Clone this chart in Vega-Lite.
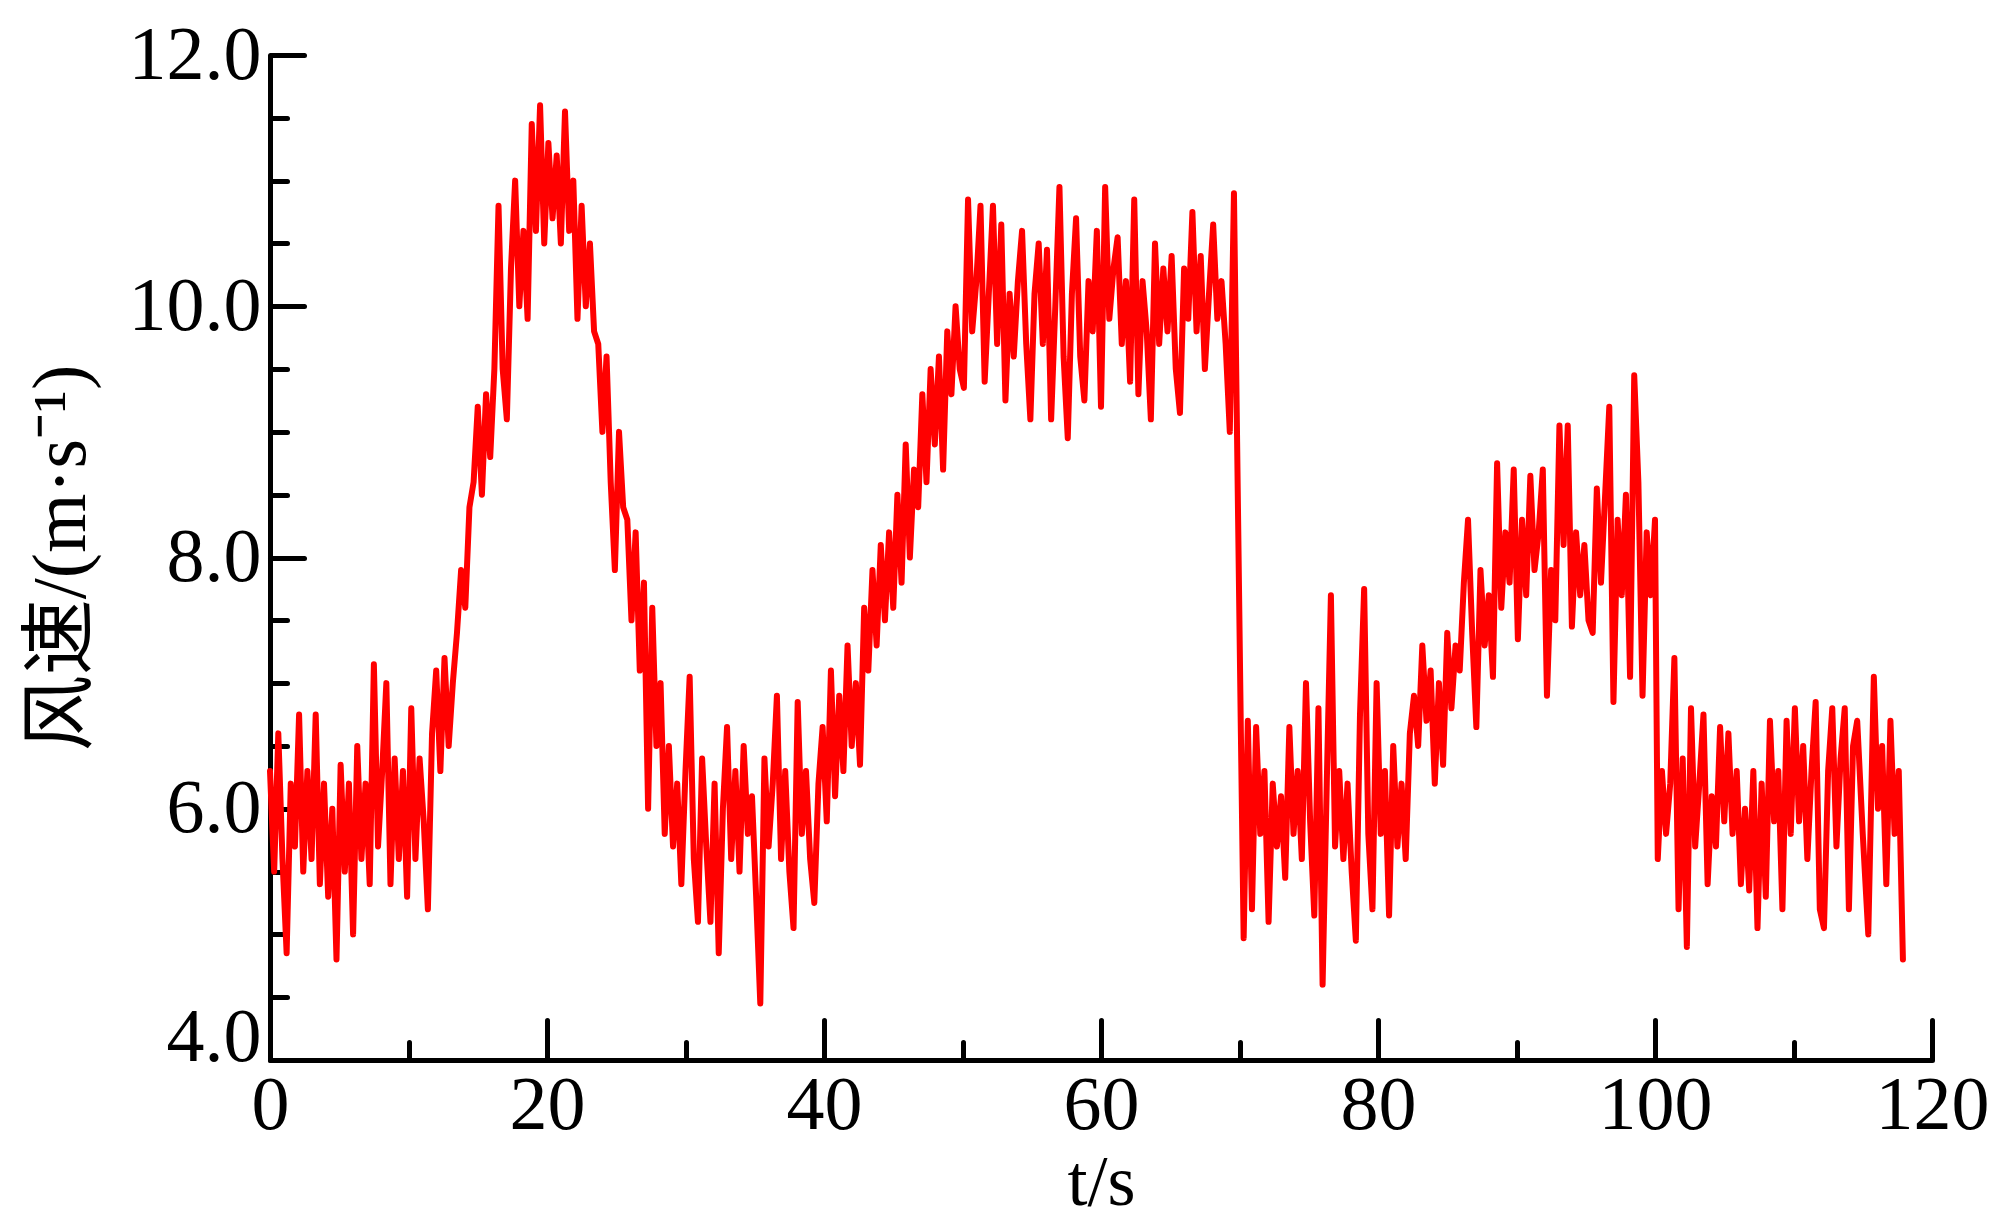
{
"$schema": "https://vega.github.io/schema/vega-lite/v6.json",
"width": 1662, "height": 1005,
"autosize": {"type": "none"},
"padding": {"left": 270, "top": 55, "right": 62, "bottom": 161},
"background": "white",
"config": {"view": {"stroke": null}, "font": "Liberation Serif"},
"data": {"values": [
{"t":0,"v":6.3},{"t":0.3,"v":5.5},{"t":0.6,"v":6.6},{"t":0.9,"v":5.6},{"t":1.2,"v":4.85},{"t":1.5,"v":6.2},{"t":1.8,"v":5.7},{"t":2.1,"v":6.75},{"t":2.4,"v":5.5},{"t":2.7,"v":6.3},
{"t":3.0,"v":5.6},{"t":3.3,"v":6.75},{"t":3.6,"v":5.4},{"t":3.9,"v":6.2},{"t":4.2,"v":5.3},{"t":4.5,"v":6.0},{"t":4.8,"v":4.8},{"t":5.1,"v":6.35},{"t":5.4,"v":5.5},{"t":5.7,"v":6.2},
{"t":6.0,"v":5.0},{"t":6.3,"v":6.5},{"t":6.6,"v":5.6},{"t":6.9,"v":6.2},{"t":7.2,"v":5.4},{"t":7.5,"v":7.15},{"t":7.8,"v":5.7},{"t":8.1,"v":6.3},{"t":8.4,"v":7.0},{"t":8.7,"v":5.4},
{"t":9.0,"v":6.4},{"t":9.3,"v":5.6},{"t":9.6,"v":6.3},{"t":9.9,"v":5.3},{"t":10.2,"v":6.8},{"t":10.5,"v":5.6},{"t":10.8,"v":6.4},{"t":11.1,"v":5.9},{"t":11.4,"v":5.2},{"t":11.7,"v":6.6},
{"t":12.0,"v":7.1},{"t":12.3,"v":6.3},{"t":12.6,"v":7.2},{"t":12.9,"v":6.5},{"t":13.2,"v":7.0},{"t":13.5,"v":7.4},{"t":13.8,"v":7.9},{"t":14.1,"v":7.6},{"t":14.4,"v":8.4},{"t":14.7,"v":8.6},
{"t":15.0,"v":9.2},{"t":15.3,"v":8.5},{"t":15.6,"v":9.3},{"t":15.9,"v":8.8},{"t":16.2,"v":9.5},{"t":16.5,"v":10.8},{"t":16.8,"v":9.5},{"t":17.1,"v":9.1},{"t":17.4,"v":10.3},{"t":17.7,"v":11.0},
{"t":18.0,"v":10.0},{"t":18.3,"v":10.6},{"t":18.6,"v":9.9},{"t":18.9,"v":11.45},{"t":19.2,"v":10.6},{"t":19.5,"v":11.6},{"t":19.8,"v":10.5},{"t":20.1,"v":11.3},{"t":20.4,"v":10.7},{"t":20.7,"v":11.2},
{"t":21.0,"v":10.5},{"t":21.3,"v":11.55},{"t":21.6,"v":10.6},{"t":21.9,"v":11.0},{"t":22.2,"v":9.9},{"t":22.5,"v":10.8},{"t":22.8,"v":10.0},{"t":23.1,"v":10.5},{"t":23.4,"v":9.8},{"t":23.7,"v":9.7},
{"t":24.0,"v":9.0},{"t":24.3,"v":9.6},{"t":24.6,"v":8.6},{"t":24.9,"v":7.9},{"t":25.2,"v":9.0},{"t":25.5,"v":8.4},{"t":25.8,"v":8.3},{"t":26.1,"v":7.5},{"t":26.4,"v":8.2},{"t":26.7,"v":7.1},
{"t":27.0,"v":7.8},{"t":27.3,"v":6.0},{"t":27.6,"v":7.6},{"t":27.9,"v":6.5},{"t":28.2,"v":7.0},{"t":28.5,"v":5.8},{"t":28.8,"v":6.5},{"t":29.1,"v":5.7},{"t":29.4,"v":6.2},{"t":29.7,"v":5.4},
{"t":30.0,"v":6.3},{"t":30.3,"v":7.05},{"t":30.6,"v":5.6},{"t":30.9,"v":5.1},{"t":31.2,"v":6.4},{"t":31.5,"v":5.7},{"t":31.8,"v":5.1},{"t":32.1,"v":6.2},{"t":32.4,"v":4.85},{"t":32.7,"v":6.0},
{"t":33.0,"v":6.65},{"t":33.3,"v":5.6},{"t":33.6,"v":6.3},{"t":33.9,"v":5.5},{"t":34.2,"v":6.5},{"t":34.5,"v":5.8},{"t":34.8,"v":6.1},{"t":35.1,"v":5.3},{"t":35.4,"v":4.45},{"t":35.7,"v":6.4},
{"t":36.0,"v":5.7},{"t":36.3,"v":6.2},{"t":36.6,"v":6.9},{"t":36.9,"v":5.6},{"t":37.2,"v":6.3},{"t":37.5,"v":5.5},{"t":37.8,"v":5.05},{"t":38.1,"v":6.85},{"t":38.4,"v":5.8},{"t":38.7,"v":6.3},
{"t":39.0,"v":5.6},{"t":39.3,"v":5.25},{"t":39.6,"v":6.2},{"t":39.9,"v":6.65},{"t":40.2,"v":5.9},{"t":40.5,"v":7.1},{"t":40.8,"v":6.1},{"t":41.1,"v":6.9},{"t":41.4,"v":6.3},{"t":41.7,"v":7.3},
{"t":42.0,"v":6.5},{"t":42.3,"v":7.0},{"t":42.6,"v":6.35},{"t":42.9,"v":7.6},{"t":43.2,"v":7.1},{"t":43.5,"v":7.9},{"t":43.8,"v":7.3},{"t":44.1,"v":8.1},{"t":44.4,"v":7.5},{"t":44.7,"v":8.2},
{"t":45.0,"v":7.6},{"t":45.3,"v":8.5},{"t":45.6,"v":7.8},{"t":45.9,"v":8.9},{"t":46.2,"v":8.0},{"t":46.5,"v":8.7},{"t":46.8,"v":8.4},{"t":47.1,"v":9.3},{"t":47.4,"v":8.6},{"t":47.7,"v":9.5},
{"t":48.0,"v":8.9},{"t":48.3,"v":9.6},{"t":48.6,"v":8.7},{"t":48.9,"v":9.8},{"t":49.2,"v":9.3},{"t":49.5,"v":10.0},{"t":49.8,"v":9.5},{"t":50.1,"v":9.35},{"t":50.4,"v":10.85},{"t":50.7,"v":9.8},
{"t":51.0,"v":10.2},{"t":51.3,"v":10.8},{"t":51.6,"v":9.4},{"t":51.9,"v":10.1},{"t":52.2,"v":10.8},{"t":52.5,"v":9.7},{"t":52.8,"v":10.65},{"t":53.1,"v":9.25},{"t":53.4,"v":10.1},{"t":53.7,"v":9.6},
{"t":54.0,"v":10.2},{"t":54.3,"v":10.6},{"t":54.6,"v":9.7},{"t":54.9,"v":9.1},{"t":55.2,"v":10.1},{"t":55.5,"v":10.5},{"t":55.8,"v":9.7},{"t":56.1,"v":10.45},{"t":56.4,"v":9.1},{"t":56.7,"v":10.0},
{"t":57.0,"v":10.95},{"t":57.3,"v":9.6},{"t":57.6,"v":8.95},{"t":57.9,"v":10.1},{"t":58.2,"v":10.7},{"t":58.5,"v":9.6},{"t":58.8,"v":9.25},{"t":59.1,"v":10.2},{"t":59.4,"v":9.8},{"t":59.7,"v":10.6},
{"t":60.0,"v":9.2},{"t":60.3,"v":10.95},{"t":60.6,"v":9.9},{"t":60.9,"v":10.3},{"t":61.2,"v":10.55},{"t":61.5,"v":9.7},{"t":61.8,"v":10.2},{"t":62.1,"v":9.4},{"t":62.4,"v":10.85},{"t":62.7,"v":9.3},
{"t":63.0,"v":10.2},{"t":63.3,"v":9.8},{"t":63.6,"v":9.1},{"t":63.9,"v":10.5},{"t":64.2,"v":9.7},{"t":64.5,"v":10.3},{"t":64.8,"v":9.8},{"t":65.1,"v":10.4},{"t":65.4,"v":9.5},{"t":65.7,"v":9.15},
{"t":66.0,"v":10.3},{"t":66.3,"v":9.9},{"t":66.6,"v":10.75},{"t":66.9,"v":9.8},{"t":67.2,"v":10.4},{"t":67.5,"v":9.5},{"t":67.8,"v":10.1},{"t":68.1,"v":10.65},{"t":68.4,"v":9.9},{"t":68.7,"v":10.2},
{"t":69.0,"v":9.7},{"t":69.3,"v":9.0},{"t":69.6,"v":10.9},{"t":69.9,"v":8.3},{"t":70.1,"v":6.6},{"t":70.3,"v":4.97},{"t":70.6,"v":6.7},{"t":70.9,"v":5.2},{"t":71.2,"v":6.65},{"t":71.5,"v":5.8},
{"t":71.8,"v":6.3},{"t":72.1,"v":5.1},{"t":72.4,"v":6.2},{"t":72.7,"v":5.7},{"t":73.0,"v":6.1},{"t":73.3,"v":5.45},{"t":73.6,"v":6.65},{"t":73.9,"v":5.8},{"t":74.2,"v":6.3},{"t":74.5,"v":5.6},
{"t":74.8,"v":7.0},{"t":75.1,"v":5.9},{"t":75.4,"v":5.15},{"t":75.7,"v":6.8},{"t":76.0,"v":4.6},{"t":76.3,"v":6.2},{"t":76.6,"v":7.7},{"t":76.9,"v":5.7},{"t":77.2,"v":6.3},{"t":77.5,"v":5.6},
{"t":77.8,"v":6.2},{"t":78.1,"v":5.5},{"t":78.4,"v":4.95},{"t":78.7,"v":6.75},{"t":79.0,"v":7.75},{"t":79.3,"v":5.8},{"t":79.6,"v":5.2},{"t":79.9,"v":7.0},{"t":80.2,"v":5.8},{"t":80.5,"v":6.3},
{"t":80.8,"v":5.15},{"t":81.1,"v":6.5},{"t":81.4,"v":5.7},{"t":81.7,"v":6.2},{"t":82.0,"v":5.6},{"t":82.3,"v":6.6},{"t":82.6,"v":6.9},{"t":82.9,"v":6.5},{"t":83.2,"v":7.3},{"t":83.5,"v":6.7},
{"t":83.8,"v":7.1},{"t":84.1,"v":6.2},{"t":84.4,"v":7.0},{"t":84.7,"v":6.35},{"t":85.0,"v":7.4},{"t":85.3,"v":6.8},{"t":85.6,"v":7.3},{"t":85.9,"v":7.1},{"t":86.2,"v":7.8},{"t":86.5,"v":8.3},
{"t":86.8,"v":7.4},{"t":87.1,"v":6.65},{"t":87.4,"v":7.9},{"t":87.7,"v":7.3},{"t":88.0,"v":7.7},{"t":88.3,"v":7.05},{"t":88.6,"v":8.75},{"t":88.9,"v":7.6},{"t":89.2,"v":8.2},{"t":89.5,"v":7.8},
{"t":89.8,"v":8.7},{"t":90.1,"v":7.35},{"t":90.4,"v":8.3},{"t":90.7,"v":7.7},{"t":91.0,"v":8.65},{"t":91.3,"v":7.9},{"t":91.6,"v":8.2},{"t":91.9,"v":8.7},{"t":92.2,"v":6.9},{"t":92.5,"v":7.9},
{"t":92.8,"v":7.5},{"t":93.1,"v":9.05},{"t":93.4,"v":8.1},{"t":93.7,"v":9.05},{"t":94.0,"v":7.45},{"t":94.3,"v":8.2},{"t":94.6,"v":7.7},{"t":94.9,"v":8.1},{"t":95.2,"v":7.5},{"t":95.5,"v":7.4},
{"t":95.8,"v":8.55},{"t":96.1,"v":7.8},{"t":96.4,"v":8.5},{"t":96.7,"v":9.2},{"t":97.0,"v":6.85},{"t":97.3,"v":8.3},{"t":97.6,"v":7.7},{"t":97.9,"v":8.5},{"t":98.2,"v":7.05},{"t":98.5,"v":9.45},
{"t":98.8,"v":8.6},{"t":99.1,"v":6.9},{"t":99.4,"v":8.2},{"t":99.7,"v":7.7},{"t":100.0,"v":8.3},{"t":100.2,"v":5.6},{"t":100.5,"v":6.3},{"t":100.8,"v":5.8},{"t":101.1,"v":6.2},{"t":101.4,"v":7.2},
{"t":101.7,"v":5.2},{"t":102.0,"v":6.4},{"t":102.3,"v":4.9},{"t":102.6,"v":6.8},{"t":102.9,"v":5.7},{"t":103.2,"v":6.2},{"t":103.5,"v":6.75},{"t":103.8,"v":5.4},{"t":104.1,"v":6.1},{"t":104.4,"v":5.7},
{"t":104.7,"v":6.65},{"t":105.0,"v":5.9},{"t":105.3,"v":6.6},{"t":105.6,"v":5.8},{"t":105.9,"v":6.3},{"t":106.2,"v":5.4},{"t":106.5,"v":6.0},{"t":106.8,"v":5.35},{"t":107.1,"v":6.3},{"t":107.4,"v":5.05},
{"t":107.7,"v":6.2},{"t":108.0,"v":5.3},{"t":108.3,"v":6.7},{"t":108.6,"v":5.9},{"t":108.9,"v":6.3},{"t":109.2,"v":5.2},{"t":109.5,"v":6.7},{"t":109.8,"v":5.8},{"t":110.1,"v":6.8},{"t":110.4,"v":5.9},
{"t":110.7,"v":6.5},{"t":111.0,"v":5.6},{"t":111.3,"v":6.3},{"t":111.6,"v":6.85},{"t":111.9,"v":5.2},{"t":112.2,"v":5.05},{"t":112.5,"v":6.3},{"t":112.8,"v":6.8},{"t":113.1,"v":5.7},{"t":113.4,"v":6.4},
{"t":113.7,"v":6.8},{"t":114.0,"v":5.2},{"t":114.3,"v":6.5},{"t":114.6,"v":6.7},{"t":115.0,"v":5.8},{"t":115.4,"v":5.0},{"t":115.8,"v":7.05},{"t":116.1,"v":6.0},{"t":116.4,"v":6.5},{"t":116.7,"v":5.4},
{"t":117.0,"v":6.7},{"t":117.3,"v":5.8},{"t":117.6,"v":6.3},{"t":117.9,"v":4.8}
]},
"mark": {"type": "line", "color": "#ff0000", "strokeWidth": 6, "strokeJoin": "round", "strokeCap": "round"},
"encoding": {
  "x": {"field": "t", "type": "quantitative",
    "scale": {"domain": [0, 120], "nice": false, "zero": false},
    "axis": {
      "values": [0,10,20,30,40,50,60,70,80,90,100,110,120],
      "title": "t/s", "titleFont": "Liberation Serif", "titleFontSize": 72, "titleFontWeight": "normal", "titleColor": "black", "titlePadding": -18,
      "labelFont": "Liberation Serif", "labelFontSize": 76, "labelColor": "black", "labelPadding": 48,
      "labelExpr": "datum.value % 20 === 0 ? datum.label : ''",
      "labelFlush": false, "labelOverlap": false, "labelBound": false,
      "tickSize": {"condition": {"test": "datum.value % 20 === 0", "value": -40}, "value": -18},
      "tickWidth": 5, "tickColor": "black", "tickCap": "round",
      "domainColor": "black", "domainWidth": 5, "grid": false
    }
  },
  "y": {"field": "v", "type": "quantitative",
    "scale": {"domain": [4, 12], "nice": false, "zero": false},
    "axis": {
      "values": [4,4.5,5,5.5,6,6.5,7,7.5,8,8.5,9,9.5,10,10.5,11,11.5,12],
      "format": ".1f",
      "title": "风速/(m·s⁻¹)", "titleFont": "Liberation Serif, Noto Sans CJK SC", "titleFontSize": 76, "titleFontWeight": "normal", "titleColor": "black", "titlePadding": 28,
      "labelFont": "Liberation Serif", "labelFontSize": 76, "labelColor": "black", "labelPadding": 43,
      "labelExpr": "datum.value % 2 === 0 ? datum.label : ''",
      "labelBaseline": {"condition": {"test": "datum.value === 4", "value": "alphabetic"}, "value": "middle"},
      "labelFlush": false, "labelOverlap": false, "labelBound": false,
      "tickSize": {"condition": {"test": "datum.value % 2 === 0", "value": -34}, "value": -17},
      "tickWidth": 5, "tickColor": "black", "tickCap": "round",
      "domainColor": "black", "domainWidth": 5, "grid": false
    }
  }
}
}
